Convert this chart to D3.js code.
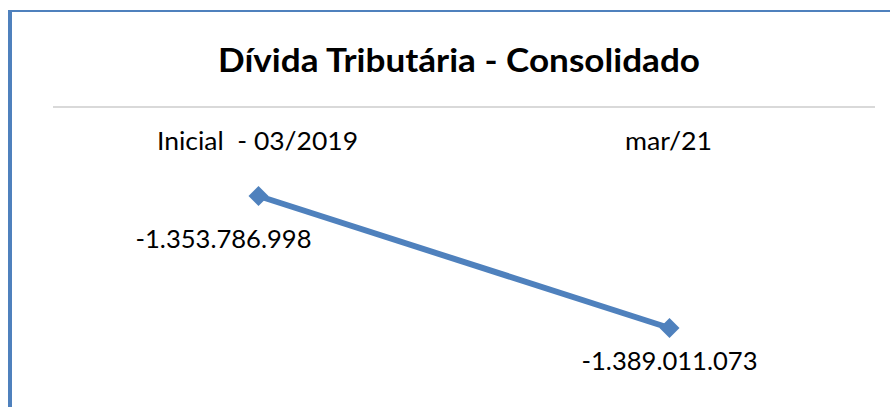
<!DOCTYPE html>
<html>
<head>
<meta charset="utf-8">
<script src="https://cdn.jsdelivr.net/npm/d3@7/dist/d3.min.js"></script>
<style>
  html, body { margin: 0; padding: 0; background: #fff; }
  svg { display: block; }
  text { font-family: Lato, "DejaVu Sans", sans-serif; fill: #000; }
</style>
</head>
<body>
<svg id="chart" width="890" height="407"></svg>
<script>
const title = "Dívida Tributária - Consolidado";
const categories = ["Inicial  - 03/2019", "mar/21"];
const values = [-1353786998, -1389011073];
const valueLabels = ["-1.353.786.998", "-1.389.011.073"];

const W = 890, H = 407;
const svg = d3.select("#chart");
const blue = "#4f81bd";

// frame (only top and left edges visible)
svg.append("line").attr("x1", 8).attr("x2", W).attr("y1", 11).attr("y2", 11)
  .attr("stroke", blue).attr("stroke-width", 2);
svg.append("line").attr("x1", 10).attr("x2", 10).attr("y1", 10).attr("y2", H)
  .attr("stroke", blue).attr("stroke-width", 4);

// title
svg.append("text").attr("x", 459).attr("y", 72).attr("text-anchor", "middle")
  .attr("font-size", 32).attr("font-weight", "bold")
  .attr("textLength", 482).attr("lengthAdjust", "spacingAndGlyphs")
  .text(title);

// separator
svg.append("line").attr("x1", 53).attr("x2", 875).attr("y1", 107).attr("y2", 107)
  .attr("stroke", "#d9d9d9").attr("stroke-width", 2);

const x = d3.scalePoint().domain(categories).range([53, 875]).padding(0.5);
const y = d3.scaleLinear().domain([d3.max(values), d3.min(values)]).range([196, 328]);

// category axis labels (top)
const catWidths = [201, 87];
svg.append("g").selectAll("text").data(categories).join("text")
  .attr("x", d => x(d) - 1)
  .attr("y", 150)
  .attr("text-anchor", "middle")
  .attr("font-size", 25.5)
  .attr("textLength", (d, i) => catWidths[i])
  .attr("lengthAdjust", "spacingAndGlyphs")
  .attr("xml:space", "preserve")
  .text(d => d);

// line
const pts = categories.map((c, i) => [x(c), y(values[i])]);
svg.append("path").datum(pts)
  .attr("d", d3.line())
  .attr("fill", "none").attr("stroke", blue).attr("stroke-width", 6)
  .attr("stroke-linecap", "butt");

// markers (diamonds)
svg.append("g").selectAll("path").data(pts).join("path")
  .attr("transform", d => `translate(${d[0]},${d[1]})`)
  .attr("d", "M0,-10L10,0L0,10L-10,0Z")
  .attr("fill", blue);

// data labels
const labelOffsets = [[-35, 52], [0, 42]];
svg.append("g").selectAll("text").data(valueLabels).join("text")
  .attr("x", (d, i) => pts[i][0] + labelOffsets[i][0])
  .attr("y", (d, i) => pts[i][1] + labelOffsets[i][1])
  .attr("text-anchor", "middle")
  .attr("font-size", 25.5)
  .attr("textLength", 176)
  .attr("lengthAdjust", "spacingAndGlyphs")
  .text(d => d);
</script>
</body>
</html>
